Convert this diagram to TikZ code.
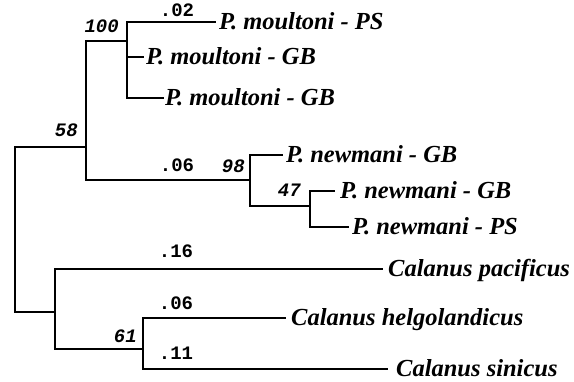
\documentclass[tikz,border=0pt]{standalone}
\usepackage{fontspec}
\setmainfont{Liberation Serif}
\newfontfamily\monofont{Liberation Mono}
\begin{document}
\begin{tikzpicture}[x=1pt,y=-1pt,
  branch/.style={line width=2.5pt, line cap=rect, line join=miter},
  leaf/.style={anchor=base west, inner sep=0pt, font=\fontsize{24.5}{24.5}\selectfont\bfseries\itshape},
  boot/.style={anchor=base east, inner sep=0pt, font=\fontsize{19}{19}\monofont\bfseries\itshape},
  blen/.style={anchor=base, inner sep=0pt, font=\fontsize{19}{19}\monofont\bfseries}]
\useasboundingbox (0,0) rectangle (574,382);
% internal nodes
\coordinate (R) at (15,147);
\coordinate (Rb) at (15,312);
\coordinate (A) at (86,147);
\coordinate (B) at (127,41);
\coordinate (C) at (250,180);
\coordinate (D) at (310,206);
\coordinate (E) at (55,312);
\coordinate (F) at (143,349);
% leaf ends
\coordinate (l1) at (215,22);
\coordinate (l2) at (143,57);
\coordinate (l3) at (163,98);
\coordinate (l4) at (282,155);
\coordinate (l5) at (334,191);
\coordinate (l6) at (348,227);
\coordinate (l7) at (382,269);
\coordinate (l8) at (285,318);
\coordinate (l9) at (387,369);
% connectors
\draw[branch] (R) -- (Rb);
\draw[branch] (R) -- (A);
\draw[branch] (Rb) -- (E);
\draw[branch] (A) |- (B);
\draw[branch] (A) |- (C);
\draw[branch] (B) |- (l1);
\draw[branch] (B) |- (l2);
\draw[branch] (B) |- (l3);
\draw[branch] (C) |- (l4);
\draw[branch] (C) |- (D);
\draw[branch] (D) |- (l5);
\draw[branch] (D) |- (l6);
\draw[branch] (E) |- (l7);
\draw[branch] (E) |- (F);
\draw[branch] (F) |- (l8);
\draw[branch] (F) |- (l9);
% labels
\node[leaf] (t1) at ([xshift=4pt,yshift=-8pt]l1) {P. moultoni - PS};
\node[leaf] (t2) at ([xshift=3pt,yshift=-8pt]l2) {P. moultoni - GB};
\node[leaf] (t3) at ([xshift=2pt,yshift=-8pt]l3) {P. moultoni - GB};
\node[leaf] (t4) at ([xshift=4pt,yshift=-8pt]l4) {P. newmani - GB};
\node[leaf] (t5) at ([xshift=6pt,yshift=-8pt]l5) {P. newmani - GB};
\node[leaf] (t6) at ([xshift=4pt,yshift=-8pt]l6) {P. newmani - PS};
\node[leaf] (t7) at ([xshift=6pt,yshift=-8pt]l7) {Calanus pacificus};
\node[leaf] (t8) at ([xshift=6pt,yshift=-8pt]l8) {Calanus helgolandicus};
\node[leaf] (t9) at ([xshift=9pt,yshift=-8pt]l9) {Calanus sinicus};
% bootstrap
\node[boot] (b1) at (119,33) {100};
\node[boot] (b2) at (78,137) {58};
\node[boot] (b3) at (245,173) {98};
\node[boot] (b4) at (301,197) {47};
\node[boot] (b5) at (137,343) {61};
% branch lengths
\node[blen] (n1) at (177,17) {.02};
\node[blen] (n2) at (177,172) {.06};
\node[blen] (n3) at (176,258) {.16};
\node[blen] (n4) at (176,310) {.06};
\node[blen] (n5) at (176,360) {.11};
\end{tikzpicture}
\end{document}
